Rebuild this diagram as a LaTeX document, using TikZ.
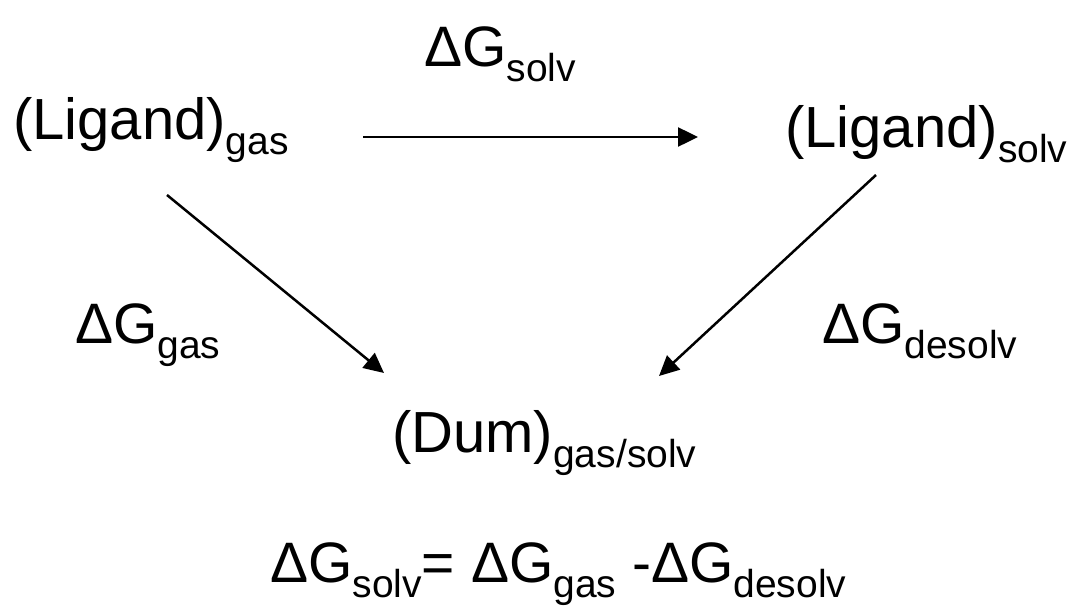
\documentclass[tikz,border=0pt]{standalone}
\usepackage{fontspec}
\setmainfont{Liberation Sans}
\usetikzlibrary{arrows.meta}

% lowered subscript in a smaller size
\newcommand\lowsub[1]{\raisebox{-15pt}{\fontsize{39}{42}\selectfont #1}}
\newcommand\speciesfont{\fontsize{58}{62}\selectfont}
\newcommand\energyfont{\fontsize{57}{60}\selectfont}

\begin{document}
\begin{tikzpicture}[x=1pt,y=-1pt,
  label/.style={inner sep=0pt,anchor=base west},
  conn/.style={line width=2.5pt,-{Triangle[length=20pt,width=19pt]}}]
\useasboundingbox (0,0) rectangle (1071,608);

\node[label] (lgas)  at (13,139)  {\speciesfont (Ligand)\lowsub{gas}};
\node[label] (lsolv) at (785,147) {\speciesfont (Ligand)\lowsub{solv}};
\node[label] (dum)   at (392,452) {\speciesfont (Dum)\lowsub{gas/solv}};

\node[label] (gsolv)   at (424,66)  {\energyfont ΔG\lowsub{solv}};
\node[label] (ggas)    at (75,343)  {\energyfont ΔG\lowsub{gas}};
\node[label] (gdesolv) at (822,343) {\energyfont ΔG\lowsub{desolv}};

\node[label] (eq) at (270,582) {\energyfont ΔG\lowsub{solv}= ΔG\lowsub{gas} -ΔG\lowsub{desolv}};

\coordinate (a1) at (363,137);
\coordinate (a2) at (698,137);
\coordinate (b1) at (167,195);
\coordinate (b2) at (384,373);
\coordinate (c1) at (876,175);
\coordinate (c2) at (659,376);

\draw[conn] (a1) -- (a2);
\draw[conn] (b1) -- (b2);
\draw[conn] (c1) -- (c2);
\end{tikzpicture}
\end{document}
